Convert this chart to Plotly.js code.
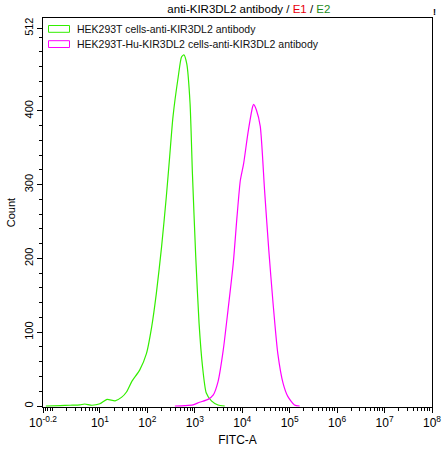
<!DOCTYPE html>
<html>
<head>
<meta charset="utf-8">
<script src="https://cdn.plot.ly/plotly-3.0.1.min.js"></script>
<style>html,body{margin:0;padding:0;background:#fff;}#chart{width:446px;height:449px;}</style>
</head>
<body>
<div id="chart"></div>
<script>
// FITC-A positions are stored as log10 exponents (the axis is drawn in decades)
const seriesNames = ["HEK293T cells-anti-KIR3DL2 antibody", "HEK293T-Hu-KIR3DL2 cells-anti-KIR3DL2 antibody"];
const seriesColors = ["#33ee00", "#ff00ff"];

const negLog10FITC = [-0.14, 0.16, 0.37, 0.58, 0.68, 0.83, 1.0, 1.15, 1.32, 1.46, 1.56, 1.67, 1.84, 1.98, 2.09, 2.19, 2.30, 2.40, 2.47, 2.54, 2.65, 2.72, 2.77, 2.83, 2.90, 2.95, 3.02, 3.09, 3.16, 3.24, 3.35, 3.49, 3.63];
const negCount    = [0, 0.5, 1, 1.5, 2.7, 1, 3, 9, 7, 12, 19, 33, 49, 71, 107, 153, 216, 284, 338, 392, 446, 473, 476, 464, 410, 315, 202, 112, 55, 18, 7, 1.4, 0];

const posLog10FITC = [2.58, 2.79, 2.96, 3.10, 3.28, 3.39, 3.49, 3.60, 3.70, 3.81, 3.89, 3.96, 4.03, 4.12, 4.22, 4.24, 4.30, 4.38, 4.47, 4.56, 4.65, 4.75, 4.86, 4.96, 5.10, 5.21];
const posCount    = [0, 0.5, 1.5, 5, 9, 15, 33, 76, 130, 193, 257, 306, 329, 370, 406, 409, 401, 379, 293, 211, 139, 71, 31, 13, 1.5, 0];

const xTickVals = [-0.2, 1, 2, 3, 4, 5, 6, 7, 8];
const xTickText = ["10<sup>-0.2</sup>", "10<sup>1</sup>", "10<sup>2</sup>", "10<sup>3</sup>", "10<sup>4</sup>", "10<sup>5</sup>", "10<sup>6</sup>", "10<sup>7</sup>", "10<sup>8</sup>"];
const yTickVals = [0, 100, 200, 300, 400, 512];
const yTickText = ["0", "100", "200", "300", "400", "512"];

// minor ticks at 2..9 of each decade, plus decade marks without labels
const xMinor = [];
for (let n = -1; n <= 7; n++) {
  for (let k = 1; k <= 9; k++) {
    const v = n + Math.log10(k);
    if (v > -0.2 && v < 8 && xTickVals.indexOf(v) < 0) xMinor.push(v);
  }
}
const yMinor = [];
for (let v = 20; v < 520; v += 20) if (yTickVals.indexOf(v) < 0) yMinor.push(v);

const FONT = "Liberation Sans, Arial, sans-serif";

const traces = [
  {x: negLog10FITC, y: negCount, type: "scatter", mode: "lines", line: {color: seriesColors[0], width: 1.2, shape: "spline", smoothing: 0.6}, name: seriesNames[0], hoverinfo: "skip"},
  {x: posLog10FITC, y: posCount, type: "scatter", mode: "lines", line: {color: seriesColors[1], width: 1.2, shape: "spline", smoothing: 0.6}, name: seriesNames[1], hoverinfo: "skip"}
];

// manual legend (outlined boxes) in plot-paper coordinates
const plotL = 43, plotT = 18, plotW = 389, plotH = 389;
const px2x = p => (p - plotL) / plotW;
const px2y = p => (plotT + plotH - p) / plotH;
const shapes = [], annotations = [];
seriesNames.forEach((nm, i) => {
  const top = 25.5 + i * 15.2;
  shapes.push({type: "rect", xref: "paper", yref: "paper", x0: px2x(48.5), x1: px2x(69.5), y0: px2y(top + 6.8), y1: px2y(top), line: {color: seriesColors[i], width: 1}, fillcolor: "rgba(0,0,0,0)"});
  annotations.push({xref: "paper", yref: "paper", x: px2x(75), y: px2y(top + 3.6), xanchor: "left", yanchor: "middle", showarrow: false, text: nm, font: {family: FONT, size: 10.5, color: "#111"}});
});
annotations.push({xref: "paper", yref: "paper", x: px2x(434.5), y: px2y(12), xanchor: "center", yanchor: "middle", showarrow: false, text: "<b>!</b>", font: {family: FONT, size: 9, color: "#000"}});

const layout = {
  width: 446, height: 449,
  margin: {l: 43, r: 14, t: 18, b: 42, pad: 0},
  paper_bgcolor: "#fff", plot_bgcolor: "#fff",
  showlegend: false,
  font: {family: FONT, size: 11, color: "#000"},
  title: {
    text: 'anti-KIR3DL2 antibody / <span style="color:#e8000b">E1</span> / <span style="color:#1e8c1e">E2</span>',
    x: 0.558, xanchor: "center", y: 0.98, yanchor: "middle",
    font: {family: FONT, size: 11.5, color: "#000"}
  },
  xaxis: {
    range: [-0.2, 8], showgrid: false, zeroline: false,
    showline: true, linecolor: "#000", linewidth: 1, mirror: true,
    tickmode: "array", tickvals: xTickVals, ticktext: xTickText,
    ticks: "outside", ticklen: 5, tickwidth: 1, tickcolor: "#000",
    tickfont: {family: FONT, size: 12, color: "#000"},
    minor: {tickmode: "array", tickvals: xMinor, ticks: "outside", ticklen: 3, tickwidth: 1, tickcolor: "#000", showgrid: false},
    title: {text: "FITC-A", font: {family: FONT, size: 12, color: "#000"}, standoff: 6},
    fixedrange: true
  },
  yaxis: {
    range: [-1.36, 526], showgrid: false, zeroline: false,
    showline: true, linecolor: "#000", linewidth: 1, mirror: true,
    tickmode: "array", tickvals: yTickVals, ticktext: yTickText, tickangle: -90,
    ticks: "outside", ticklen: 5, tickwidth: 1, tickcolor: "#000",
    tickfont: {family: FONT, size: 11, color: "#000"},
    minor: {tickmode: "array", tickvals: yMinor, ticks: "outside", ticklen: 3, tickwidth: 1, tickcolor: "#000", showgrid: false},
    title: {text: "Count", font: {family: FONT, size: 11, color: "#000"}, standoff: 4},
    fixedrange: true
  },
  shapes: shapes,
  annotations: annotations
};

Plotly.newPlot("chart", traces, layout, {displayModeBar: false, staticPlot: true});
</script>
</body>
</html>
